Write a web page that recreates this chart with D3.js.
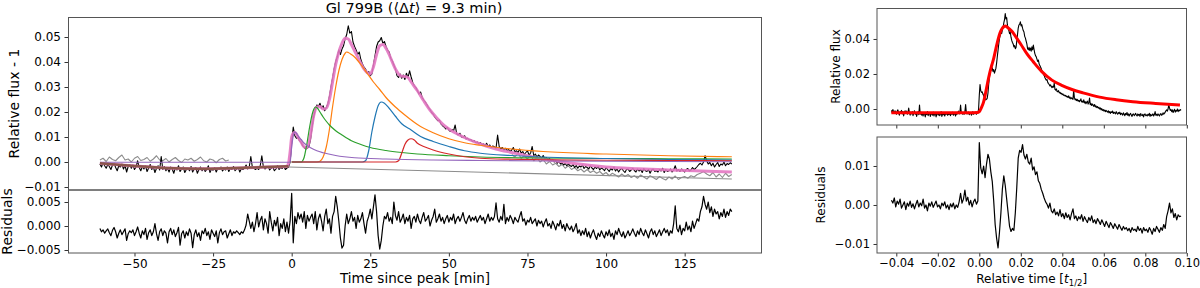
<!DOCTYPE html>
<html>
<head>
<meta charset="UTF-8">
<script src="https://cdn.jsdelivr.net/npm/d3@7"></script>
<style>
body { margin: 0; background: #fff; }
text { font-family: "DejaVu Sans", sans-serif; }
</style>
</head>
<body>
<svg width="1200" height="288"></svg>
<script>

// all flux values below are in units of 1e-4
var U = 1e-4;
var MIN_PER_DAY = 1440;

// light curve, one value every 0.5 min from -61 min
var dataT0 = -61, dataDt = 0.5;
var flux = [
  -8, -20, -3, -15, -25, -10, -18, -30, -12, -5, -22, -35, -15, -20, -8, -28, -14, -40, -18, -10,
  -25, -12, -30, -20, 5, -22, -35, -18, -28, -15, -38, -24, -10, -30, -20, -42, -25, -15, -32, 22,
  -30, -18, -35, -25, -40, -20, -28, -45, -22, -32, -15, -38, -28, -20, -42, -30, -25, -35, -18, -40,
  -28, -22, -45, -30, -20, -35, -25, -38, -30, -15, -42, -28, -33, -22, -40, -26, -30, -20, -36, -28,
  -32, -20, -38, -25, -30, -18, -35, -28, -22, -40, -26, -30, -24, -12, -28, -20, 22, -22, -25, -30,
  -24, -30, -15, 25, -20, -28, -22, -18, -32, -25, -20, -35, -28, -15, -30, -22, -26, -18, -30, -24,
  -20, 0, 80, 140, 105, 95, 98, 85, 78, 65, 58, 52, 55, 62, 90, 140, 180, 210, 228, 222,
  235, 215, 225, 205, 218, 232, 262, 300, 335, 372, 402, 420, 448, 430, 452, 465, 492, 510, 545, 515,
  522, 480, 462, 448, 430, 440, 410, 392, 380, 372, 355, 362, 345, 352, 388, 425, 462, 480, 485, 498,
  475, 482, 462, 448, 440, 415, 405, 388, 372, 345, 338, 352, 335, 348, 330, 355, 338, 365, 340, 318,
  305, 298, 285, 272, 280, 258, 248, 240, 230, 218, 210, 198, 192, 180, 172, 165, 168, 152, 145, 140,
  132, 138, 128, 122, 130, 125, 148, 112, 108, 115, 100, 98, 105, 92, 95, 88, 90, 82, 86, 78,
  80, 74, 78, 70, 72, 66, 75, 62, 68, 58, 64, 60, 55, 108, 62, 52, 58, 48, 55, 45,
  50, 42, 48, 58, 40, 45, 38, 52, 35, 42, 30, 38, 45, 28, 36, 62, 25, 32, 20, 28,
  22, 15, 26, 12, 18, 8, 14, 5, 10, 0, 6, -5, 2, -8, -3, -12, -6, -15, -8, -14,
  -18, -10, -22, -14, -25, -16, -20, -12, -26, -18, -22, -28, -15, -24, -30, -20, -26, -18, -32, -24,
  -28, -35, -22, -30, -38, -26, -32, -20, -36, -28, -40, -30, -25, -35, -42, -30, -28, -38, -32, -25,
  -34, -40, -28, -36, -30, -42, -26, -35, -38, -30, -45, -32, -28, -38, -34, -40, -30, -36, -25, -42,
  -30, -38, -35, -28, -40, -32, -15, -36, -30, -38, -28, -34, -40, -30, -26, -36, -32, -22, -30, -25,
  -18, -10, -5, -12, 0, 25, 5, -8, -2, -15, -5, -20, -10, -2, -18, -8, -12, 0, -15, -6,
  -10, -3, -8
];

// residuals of the multi-flare model, same time grid
var resid = [
  -5, -12, -8, -15, -10, -6, -14, -20, -9, -3, -12, -25, -15, -8, -18, -12, -6, -30, -16, -10,
  -14, -8, -20, -12, -2, -15, -25, -10, -18, -5, -28, -14, -8, -20, -12, 5, -16, -30, -12, -6,
  -20, -10, -15, -35, -12, -5, -18, -8, -22, -14, -3, -40, -16, -10, -25, -12, -20, -6, -15, -45,
  -18, -8, -22, -14, -30, -10, -16, -5, -20, -12, -28, -8, -15, -22, -10, -35, -14, -6, -18, -12,
  -10, -25, -16, -8, -20, -12, -15, -10, -14, -18, -12, -15, -8, 2, 25, 10, -5, 8, -12, 5,
  28, -2, 12, 20, -8, 15, 5, -15, 30, 8, -10, 12, 0, 18, -20, 5, -5, 15, -12, 8,
  -15, 10, 68, -35, 20, 5, 28, 15, 25, 8, 30, -5, 22, 10, 18, 25, 5, 30, -8, 15,
  25, 10, -10, 20, 35, 5, 15, -15, 20, 30, 62, 40, 10, -25, -46, -40, 0, 25, 5, 15,
  30, 10, 18, -5, 22, 8, 15, 28, 5, -15, 10, 20, 35, 15, 40, 65, 30, -20, -48, -30,
  0, 20, 15, 28, 10, 18, 5, 50, 22, 12, 30, 8, 15, 25, 5, 18, 10, 22, -5, 15,
  20, 8, 25, 12, 5, 18, 28, 10, 15, 22, 0, 12, 20, 35, 8, 15, 25, 10, 18, 5,
  15, 22, 8, 18, 12, 25, 5, 15, 20, 10, 18, 28, 12, 5, 15, 22, 10, 18, 12, 20,
  8, 15, 22, 12, 18, 5, 15, 25, 10, 18, 12, 20, 48, 15, 8, 20, 12, 45, 5, 18,
  10, 22, 15, 5, 18, 12, 8, 20, 30, 10, 15, 2, 12, 8, 18, 5, 10, 15, 0, 12,
  5, 10, -2, 8, 15, 0, 5, -5, 10, 2, -8, 5, 0, 12, -5, 3, -10, 5, -3, -8,
  0, -12, -5, 5, -15, -8, -20, -10, -18, -5, -22, -12, -25, -15, -8, -20, -28, -15, -22, -10,
  -18, -25, -12, -20, -8, -22, -15, -28, -10, -18, -5, -15, -22, -12, -25, -18, -10, -20, -14, -6,
  -15, -22, -10, -18, -5, -14, -20, -8, -16, -25, -12, -6, -18, -10, -22, -15, -8, -20, -12, -5,
  -14, -8, -20, -10, -15, 5, 42, -5, -12, 2, -18, -5, -10, 8, -8, 0, -12, 10, -5, 5,
  15, 10, 30, 40, 62, 45, 35, 50, 28, 40, 20, 35, 25, 30, 15, 28, 20, 35, 18, 30,
  22, 35, 30
];

// undetrended light curve (grey), 1 min steps
var grayPreT0 = -61;
var grayPre = [8, 15, 2, 20, 10, 5, 18, 28, 8, 12, 0, 15, 22, 6, 10, 18, 3, 12, 25, 8, 5, 14, 0, 10, 18,
  6, -2, 12, 8, 15, 3, 10, 20, 5, 0, 12, 8, -3, 10, 15, 4, 8];
var grayPostT0 = 70;
var grayPost = [30, 20, 35, 15, 25, 12, 28, 5, 18, 0, 10, -8, 2, -12, -5, -18, -10, -25, -15, -30,
  -22, -35, -28, -40, -30, -42, -35, -45, -38, -50, -42, -55, -45, -52, -60, -48, -58, -50, -62, -55,
  -65, -52, -60, -68, -55, -62, -70, -58, -66, -72, -60, -68, -56, -70, -62, -58, -65, -55, -60, -50,
  -45, -38, -48, -55, -42, -60, -48, -62, -45, -58, -50];

// model components (time in min)
var modelT = [-61, -50, -40, -30, -20, -10, -2, -1.5, -1, -0.5, 0, 0.5, 1, 1.5, 2, 3, 4, 5, 6, 7,
  8, 9, 10, 11, 12, 13, 14, 15, 16, 17, 18, 19, 20, 21, 22, 23, 24, 25, 26, 27,
  28, 29, 30, 31, 32, 33, 34, 35, 36, 37, 38, 40, 42, 44, 46, 48, 50, 53, 56, 60,
  65, 70, 75, 80, 85, 90, 100, 110, 120, 130, 140];
var modelV = [-5, -16, -24, -27, -25, -21, -18, -17, -5, 40, 100, 115, 118, 112, 100, 80, 60, 58, 110, 185,
  220, 222, 212, 215, 250, 320, 390, 440, 475, 495, 492, 470, 445, 420, 395, 372, 358, 352, 380, 430,
  465, 470, 455, 430, 400, 372, 352, 343, 342, 338, 320, 285, 245, 208, 178, 152, 132, 110, 92, 72,
  52, 38, 25, 12, 3, -6, -20, -27, -32, -36, -40];

var trendT = [-61, -50, -40, -30, -20, -10, -1];
var trendV = [-5, -16, -24, -27, -25, -21, -17];

var baseT = [-1, 140];
var baseV = [-20, -68];

var purpleT = [-61, -1, -0.5, 0, 0.5, 1, 1.5, 2, 3, 4, 5, 6, 8, 10, 14, 20, 30, 45, 60, 80, 100, 140];
var purpleV = [-1, -1, 0, 60, 105, 120, 115, 105, 90, 75, 65, 57, 45, 37, 26, 17, 12, 8, 6, 4, 3, 1];

var greenT = [0, 3, 3.5, 4, 4.5, 5, 5.5, 6, 6.5, 7, 7.5, 8, 9, 10, 11, 12, 14, 16, 19, 22,
  25, 30, 35, 40, 50, 60, 80, 100, 120, 140];
var greenV = [0, 0, 5, 20, 50, 85, 125, 160, 190, 210, 220, 218, 200, 180, 163, 148, 125, 108, 85, 70,
  58, 46, 38, 32, 25, 20, 16, 14, 13, 12];

var orangeT = [0, 8, 9, 10, 11, 12, 13, 14, 15, 16, 17, 17.5, 18, 19, 20, 22, 24, 26, 28, 30,
  33, 36, 40, 45, 50, 55, 60, 70, 80, 100, 120, 140];
var orangeV = [0, 0, 3, 20, 60, 130, 220, 300, 365, 410, 435, 440, 438, 430, 420, 390, 355, 320, 290, 258,
  220, 188, 150, 117, 93, 77, 67, 52, 42, 32, 25, 21];

var blueT = [0, 22.5, 23.5, 24.5, 25.5, 26.5, 27.5, 28.5, 29.5, 31, 33, 35, 38, 41, 45, 50, 55, 60, 70, 80, 100, 120, 140];
var blueV = [0, 0, 5, 45, 120, 180, 225, 240, 235, 215, 183, 153, 128, 102, 82, 62, 45, 35, 26, 20, 14, 10, 8];

var redT = [0, 33, 34, 35, 36, 37, 38, 39, 40, 42, 45, 50, 55, 60, 70, 80, 100, 120, 140];
var redV = [0, 0, 5, 35, 70, 88, 93, 88, 75, 62, 48, 32, 21, 15, 11, 9, 7, 6, 5];

// single-flare fit (right panel), time in days
var fitT = [-0.0424, -0.02, -0.005, -0.001, 0.0, 0.001, 0.002, 0.003, 0.004, 0.005, 0.006, 0.007, 0.008, 0.009, 0.010,
  0.011, 0.012, 0.0125, 0.013, 0.014, 0.016, 0.018, 0.020, 0.023, 0.026, 0.030, 0.035, 0.040, 0.045, 0.050,
  0.058, 0.066, 0.074, 0.085, 0.0967];
var fitV = [-21, -21, -21, -20, -15, 8, 38, 90, 150, 205, 250, 292, 345, 395, 435,
  460, 472, 474, 472, 462, 440, 405, 370, 315, 270, 215, 165, 134, 110, 92,
  68, 53, 42, 32, 23];

// residuals of the single-flare fit, 1 min steps from -61 min
var fitResT0 = -61;
var fitRes = [
  12, 5, 18, -5, 10, 2, 15, -8, 0, 8, -12, 5, -3, 10, -6, 3, -10, 2, 12, -5,
  5, -2, 15, -8, 0, -15, 5, -3, 8, -6, 2, 10, -5, 0, -10, 5, -2, 8, -8, 0,
  -12, 3, -5, 5, -10, 0, -6, 8, 30, 5, 15, 38, 10, 20, 0, 12, -5, 8, 15, 2, 10,
  160, 95, 80, 100, 70, 105, 130, 118, 85, 60, 10, -50, -85, -110, -70, -20, 40, 75, 50, 15,
  -20, -55, -68, -60, -65, -20, 45, 120, 140, 135, 155, 128, 118, 130, 110, 105, 120, 90, 98, 78,
  85, 62, 55, 40, 30, 18, 8, 2, -8, 5, -15, -20, -10, -25, -18, -28, -12, -30, -22, -35,
  -20, -32, -25, -38, -22, -10, -35, -28, -40, -30, -36, -25, -42, -30, -38, -45, -32, -40, -28, -45,
  -38, -48, -35, -42, -50, -38, -46, -55, -42, -50, -58, -45, -52, -60, -48, -55, -62, -50, -58, -65,
  -55, -62, -58, -66, -60, -70, -58, -65, -62, -68, -55, -65, -60, -72, -58, -66, -62, -70, -58, -65,
  -75, -60, -68, -55, -62, -70, -58, -65, -50, -60, -30, -15, 5, -20, -10, -32, -22, -38, -25, -30,
  -28
];

var svg = d3.select("svg");

function grid(t0, dt, vals) { return vals.map(function(v, i) { return [t0 + i * dt, v * U]; }); }
function pairs(ts, vs) { return ts.map(function(t, i) { return [t, vs[i] * U]; }); }

// ---- left figure
var x = d3.scaleLinear().domain([-71.15, 149.6]).range([68, 762]);
var yTop = d3.scaleLinear().domain([-0.0112, 0.058]).range([190, 17]);
var yRes = d3.scaleLinear().domain([-0.005625, 0.0075]).range([253, 190]);

var lineTop = d3.line().x(function(d) { return x(d[0]); }).y(function(d) { return yTop(d[1]); });
var smoothTop = d3.line().x(function(d) { return x(d[0]); }).y(function(d) { return yTop(d[1]); })
  .curve(d3.curveMonotoneX);
var lineRes = d3.line().x(function(d) { return x(d[0]); }).y(function(d) { return yRes(d[1]); });

function draw(g, data, gen, color, width, opacity) {
  g.append("path").datum(data)
    .attr("fill", "none").attr("stroke", color)
    .attr("stroke-width", width).attr("stroke-linejoin", "round")
    .attr("opacity", opacity || 1)
    .attr("d", gen);
}

var gMain = svg.append("g");
draw(gMain, grid(grayPreT0, 1, grayPre), lineTop, "#8c8c8c", 1.1);
draw(gMain, grid(grayPostT0, 1, grayPost), lineTop, "#8c8c8c", 1.1);
draw(gMain, grid(dataT0, dataDt, flux), lineTop, "#000", 1.1);
draw(gMain, pairs(modelT, modelV), smoothTop, "#e377c2", 3, 0.9);
draw(gMain, pairs(baseT, baseV), lineTop, "#8c8c8c", 1.2);
draw(gMain, pairs(orangeT, orangeV), smoothTop, "#ff7f0e", 1.2);
draw(gMain, pairs(greenT, greenV), smoothTop, "#2ca02c", 1.2);
draw(gMain, pairs(blueT, blueV), smoothTop, "#1f77b4", 1.2);
draw(gMain, pairs(redT, redV), smoothTop, "#d62728", 1.2);
draw(gMain, pairs(purpleT, purpleV), smoothTop, "#9467bd", 1.2);
draw(gMain, pairs(trendT, trendV), smoothTop, "#8c564b", 2.5);

var gRes = svg.append("g");
draw(gRes, grid(dataT0, dataDt, resid), lineRes, "#000", 1.2);

function styleAxis(g, size) {
  g.attr("font-family", "DejaVu Sans").attr("font-size", size);
  g.select(".domain").remove();
  g.selectAll(".tick line").attr("stroke", "#333");
  g.selectAll(".tick text").attr("fill", "#000");
}

svg.append("g").attr("transform", "translate(68,0)")
  .call(d3.axisLeft(yTop).tickValues([-0.01, 0, 0.01, 0.02, 0.03, 0.04, 0.05])
    .tickFormat(d3.format(".2f")).tickSize(3.5).tickPadding(3.5))
  .call(styleAxis, 12);
svg.append("g").attr("transform", "translate(68,0)")
  .call(d3.axisLeft(yRes).tickValues([-0.005, 0, 0.005])
    .tickFormat(d3.format(".3f")).tickSize(3.5).tickPadding(3.5))
  .call(styleAxis, 12);
svg.append("g").attr("transform", "translate(0,253)")
  .call(d3.axisBottom(x).tickValues([-50, -25, 0, 25, 50, 75, 100, 125])
    .tickFormat(d3.format("d")).tickSize(3.5).tickPadding(2.5))
  .call(styleAxis, 12);

svg.append("rect").attr("x", 68.5).attr("y", 17.5).attr("width", 693).attr("height", 172.5)
  .attr("fill", "none").attr("stroke", "#555");
svg.append("rect").attr("x", 68.5).attr("y", 190).attr("width", 693).attr("height", 63)
  .attr("fill", "none").attr("stroke", "#555");

var title = svg.append("text").attr("x", 414).attr("y", 13).attr("text-anchor", "middle")
  .attr("font-size", 14.5);
title.append("tspan").text("Gl 799B (\u27e8\u0394");
title.append("tspan").attr("font-style", "italic").text("t");
title.append("tspan").text("\u27e9 = 9.3 min)");

svg.append("text").attr("transform", "translate(14,103.5) rotate(-90)")
  .attr("text-anchor", "middle").attr("dy", "0.35em").attr("font-size", 14)
  .text("Relative flux - 1");
svg.append("text").attr("transform", "translate(7,221.5) rotate(-90)")
  .attr("text-anchor", "middle").attr("dy", "0.35em").attr("font-size", 14)
  .text("Residuals");
svg.append("text").attr("x", 415).attr("y", 283).attr("text-anchor", "middle")
  .attr("font-size", 13.5).text("Time since peak [min]");

// ---- right figure
var xr = d3.scaleLinear().domain([-0.04945, 0.09995]).range([876.7, 1186.7]);
var yrTop = d3.scaleLinear().domain([-0.00914, 0.0577]).range([125, 8]);
var yrBot = d3.scaleLinear().domain([-0.01231, 0.01751]).range([253, 136.7]);

var rTop = d3.line().x(function(d) { return xr(d[0] / MIN_PER_DAY); }).y(function(d) { return yrTop(d[1]); });
var rFit = d3.line().x(function(d) { return xr(d[0]); }).y(function(d) { return yrTop(d[1]); })
  .curve(d3.curveMonotoneX);
var rBot = d3.line().x(function(d) { return xr(d[0] / MIN_PER_DAY); }).y(function(d) { return yrBot(d[1]); });

var gRt = svg.append("g");
draw(gRt, grid(dataT0, dataDt, flux), rTop, "#000", 1.1);
draw(gRt, pairs(fitT, fitV), rFit, "#ff0000", 3);
var gRb = svg.append("g");
draw(gRb, grid(fitResT0, 1, fitRes), rBot, "#000", 1.2);

var xrTicks = [-0.04, -0.02, 0, 0.02, 0.04, 0.06, 0.08, 0.10];
svg.append("g").attr("transform", "translate(877,0)")
  .call(d3.axisLeft(yrTop).tickValues([0, 0.02, 0.04]).tickFormat(d3.format(".2f"))
    .tickSize(3.5).tickPadding(3.5))
  .call(styleAxis, 11.5);
svg.append("g").attr("transform", "translate(877,0)")
  .call(d3.axisLeft(yrBot).tickValues([-0.01, 0, 0.01]).tickFormat(d3.format(".2f"))
    .tickSize(3.5).tickPadding(3.5))
  .call(styleAxis, 11.5);
svg.append("g").attr("transform", "translate(0,125)")
  .call(d3.axisBottom(xr).tickValues(xrTicks).tickFormat("").tickSize(3.5))
  .call(styleAxis, 11.5);
svg.append("g").attr("transform", "translate(0,253)")
  .call(d3.axisBottom(xr).tickValues(xrTicks).tickFormat(d3.format(".2f"))
    .tickSize(3.5).tickPadding(2.5))
  .call(styleAxis, 11.5);

svg.append("rect").attr("x", 877).attr("y", 8.5).attr("width", 309.5).attr("height", 116.5)
  .attr("fill", "none").attr("stroke", "#555");
svg.append("rect").attr("x", 877).attr("y", 137).attr("width", 309.5).attr("height", 116)
  .attr("fill", "none").attr("stroke", "#555");

svg.append("text").attr("transform", "translate(836,66.5) rotate(-90)")
  .attr("text-anchor", "middle").attr("dy", "0.35em").attr("font-size", 12)
  .text("Relative flux");
svg.append("text").attr("transform", "translate(821,195) rotate(-90)")
  .attr("text-anchor", "middle").attr("dy", "0.35em").attr("font-size", 12)
  .text("Residuals");
var xlr = svg.append("text").attr("x", 1031.7).attr("y", 283).attr("text-anchor", "middle")
  .attr("font-size", 12);
xlr.append("tspan").text("Relative time [");
xlr.append("tspan").attr("font-style", "italic").text("t");
xlr.append("tspan").attr("font-size", 8.5).attr("dy", 3).text("1/2");
xlr.append("tspan").attr("dy", -3).text("]");

</script>
</body>
</html>
